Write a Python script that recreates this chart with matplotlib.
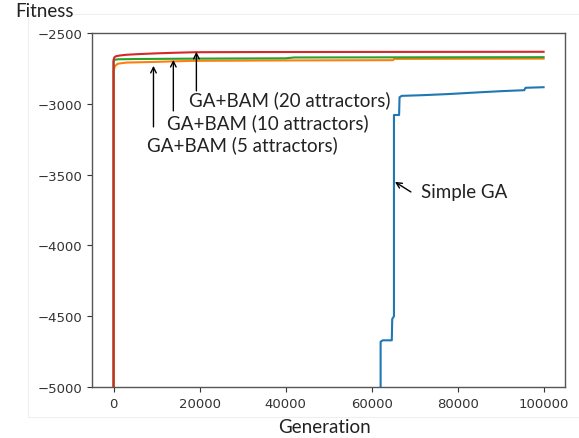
import numpy as np
import matplotlib
matplotlib.use("Agg")
import matplotlib.pyplot as plt
from matplotlib.patches import Rectangle

# GA+BAM runs (generation, best fitness)
red_gen = [0, 0, 200, 600, 1500, 3000, 6000, 10000, 14000, 19000, 30000, 60000, 100000]
red_fit = [-12000, -2690, -2672, -2665, -2660, -2655, -2650, -2645, -2641, -2637, -2636, -2635, -2634]

green_gen = [0, 0, 300, 1000, 5000, 20000, 40000, 42000, 100000]
green_fit = [-12000, -2700, -2690, -2687, -2685, -2682, -2680, -2674, -2672]

orange_gen = [0, 0, 300, 1000, 3000, 10000, 18000, 40000, 65000, 65300, 100000]
orange_fit = [-12000, -2770, -2735, -2718, -2710, -2705, -2698, -2695, -2693, -2684, -2682]

# simple GA
blue_gen = [62100, 62100, 62600, 64700, 64800, 65200, 65200, 66400, 66500, 67000,
            72000, 78000, 85000, 90000, 95500, 95800, 100000]
blue_fit = [-12000, -4680, -4670, -4670, -4520, -4500, -3080, -3080, -2955, -2945,
            -2940, -2932, -2920, -2912, -2905, -2888, -2884]

labels = ["GA+BAM (5 attractors)", "GA+BAM (10 attractors)", "GA+BAM (20 attractors)", "Simple GA"]
arrow_tip = [(9280, -2733), (13900, -2691), (19260, -2634), (65430, -3552)]
arrow_tail = [(9280, -3164), (13900, -3051), (19260, -2910), (69140, -3623)]
text_pos = [(7660, -3284), (12530, -3129), (17630, -2966), (71460, -3623)]

fig = plt.figure(figsize=(5.79, 4.39), dpi=100)
# faint frame of the pasted figure
fig.patches.append(Rectangle((28 / 579, 1 - 418 / 439), 1.0, (418 - 15) / 439,
                             transform=fig.transFigure, fill=False, ec="#efefef", lw=0.8))
ax = fig.add_axes([0.159, 0.116, 0.817, 0.807])

ax.plot(blue_gen, blue_fit, color="#1f77b4", lw=1.5)
ax.plot(orange_gen, orange_fit, color="#ff7f0e", lw=1.5)
ax.plot(green_gen, green_fit, color="#2ca02c", lw=1.5)
ax.plot(red_gen, red_fit, color="#d62728", lw=1.5)

ax.set_xlim(-5000, 105000)
ax.set_ylim(-5000, -2500)
ax.set_xticks([0, 20000, 40000, 60000, 80000, 100000])
ax.set_yticks([-5000, -4500, -4000, -3500, -3000, -2500])
ax.tick_params(labelsize=9.5, colors="#333333")
for s in ax.spines.values():
    s.set_color("#555555")
    s.set_linewidth(1.0)

for lab, tip, tail, pos in zip(labels, arrow_tip, arrow_tail, text_pos):
    ax.annotate("", xy=tip, xytext=tail,
                arrowprops=dict(arrowstyle="->", color="black", lw=1.0, shrinkA=0, shrinkB=0))
    ax.text(pos[0], pos[1], lab, ha="left", va="center", fontsize=13.5,
            family="Lato", color="#222222")

fig.text(0.026, 0.973, "Fitness", ha="left", va="center", fontsize=13.5, family="Lato", color="#222222")
fig.text(0.5605, 0.027, "Generation", ha="center", va="center", fontsize=13.5, family="Lato", color="#222222")

fig.savefig("out.png", dpi=100)
